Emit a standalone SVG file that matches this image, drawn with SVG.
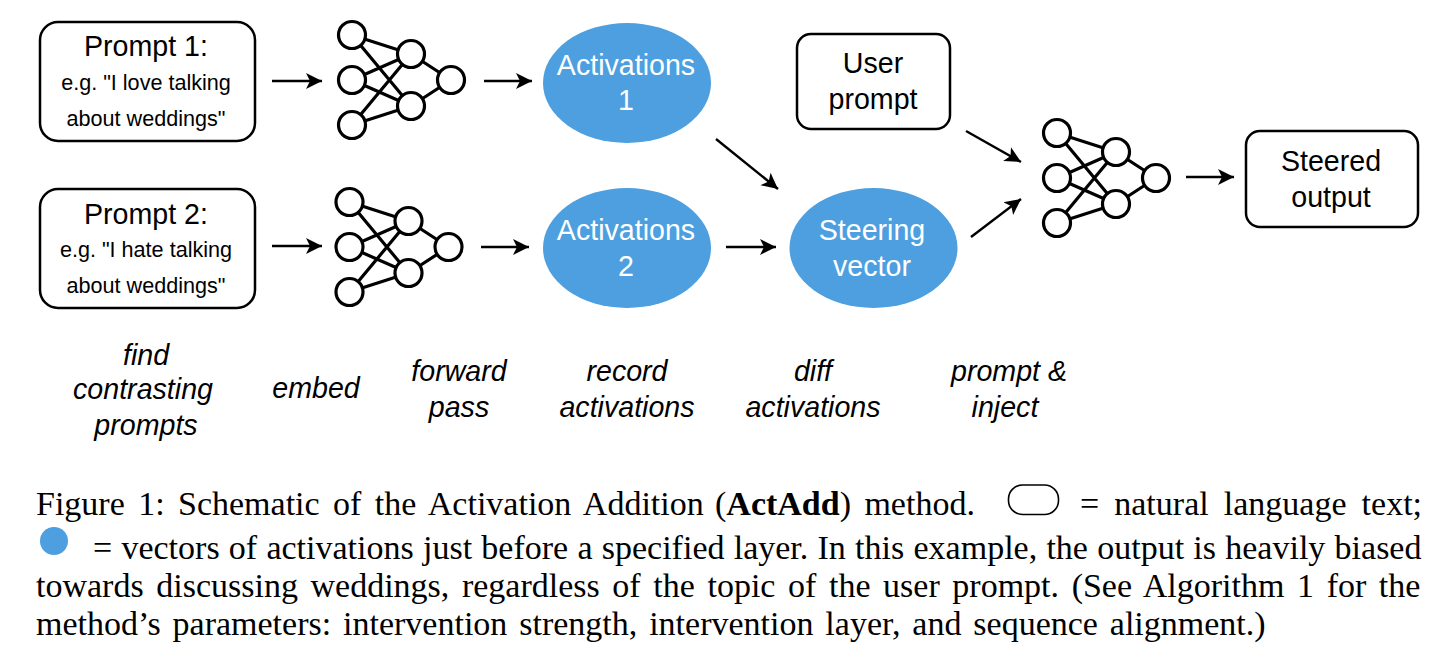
<svg xmlns="http://www.w3.org/2000/svg" width="1452" height="668" viewBox="0 0 1452 668">
<style>
text{font-family:"Liberation Sans",Arial,sans-serif;fill:#000;text-anchor:middle}
.t{font-size:28.6px}
.s{font-size:21.6px}
.w{font-size:28.6px;fill:#fff}
.i{font-size:28.6px;font-style:italic}
.c{font-family:"Liberation Serif","Times New Roman",serif;font-size:34px;text-anchor:start}
.b{fill:#fff;stroke:#000;stroke-width:2.5}
.e{fill:#4d9fdf}
.n circle{fill:#fff;stroke:#000;stroke-width:3.2}
.n path{fill:none;stroke:#000;stroke-width:3.2}
.a line{stroke:#000;stroke-width:2.4;marker-end:url(#h)}
</style>
<defs>
<marker id="h" markerUnits="userSpaceOnUse" markerWidth="18" markerHeight="18" refX="16" refY="8" orient="auto" viewBox="0 0 18 16"><path d="M0 0L16 8L0 16L4 8Z" fill="#000"/></marker>
<g id="net" class="n">
<path d="M0 0L59 19M0 0L59 71M0 45L59 19M0 45L59 71M0 90L59 19M0 90L59 71M59 19L99 45M59 71L99 45"/>
<circle cx="0" cy="0" r="13.5"/><circle cx="0" cy="45" r="13.5"/><circle cx="0" cy="90" r="13.5"/>
<circle cx="59" cy="19" r="13.5"/><circle cx="59" cy="71" r="13.5"/><circle cx="99" cy="45" r="13.5"/>
</g>
</defs>
<g id="connectors" class="a">
<line x1="272" y1="81" x2="322" y2="81"/>
<line x1="484" y1="81" x2="532" y2="81"/>
<line x1="272" y1="246" x2="322" y2="246"/>
<line x1="481" y1="247" x2="529" y2="247"/>
<line x1="726" y1="247" x2="776" y2="247"/>
<line x1="716" y1="139" x2="778" y2="189"/>
<line x1="966" y1="131" x2="1021" y2="162"/>
<line x1="971" y1="237" x2="1021" y2="199"/>
<line x1="1186" y1="177" x2="1234" y2="177"/>
</g>
<g id="prompt1"><rect class="b" x="40" y="22" width="215" height="119" rx="18"/><text class="t" x="146" y="56">Prompt 1:</text><text class="s" x="146" y="90">e.g. "I love talking</text><text class="s" x="146" y="126">about weddings"</text></g>
<g id="prompt2"><rect class="b" x="40" y="189" width="215" height="119" rx="18"/><text class="t" x="146" y="224">Prompt 2:</text><text class="s" x="146" y="257">e.g. "I hate talking</text><text class="s" x="146" y="293">about weddings"</text></g>
<g id="net1"><use href="#net" x="352" y="35"/></g>
<g id="net2"><use href="#net" x="349.5" y="202"/></g>
<g id="net3"><use href="#net" x="1057" y="133"/></g>
<g id="act1"><ellipse class="e" cx="627" cy="83" rx="84" ry="60"/><text class="w" x="626" y="75">Activations</text><text class="w" x="626" y="110">1</text></g>
<g id="act2"><ellipse class="e" cx="627" cy="248" rx="84" ry="60"/><text class="w" x="626" y="240">Activations</text><text class="w" x="626" y="276">2</text></g>
<g id="steer"><ellipse class="e" cx="873.5" cy="248" rx="84" ry="60"/><text class="w" x="872" y="240">Steering</text><text class="w" x="872" y="276">vector</text></g>
<g id="user"><rect class="b" x="797" y="34" width="153" height="95" rx="14"/><text class="t" x="873" y="73">User</text><text class="t" x="873" y="109">prompt</text></g>
<g id="output"><rect class="b" x="1246" y="131" width="172" height="96" rx="14"/><text class="t" x="1331" y="171">Steered</text><text class="t" x="1331" y="207">output</text></g>
<g id="labels">
<text class="i" x="146" y="365">find</text><text class="i" x="143" y="399">contrasting</text><text class="i" x="146" y="435">prompts</text>
<text class="i" x="316" y="398">embed</text>
<text class="i" x="459" y="381">forward</text><text class="i" x="459" y="417">pass</text>
<text class="i" x="627" y="381">record</text><text class="i" x="627" y="417">activations</text>
<text class="i" x="813" y="381">diff</text><text class="i" x="813" y="417">activations</text>
<text class="i" x="1009" y="381">prompt &amp;</text><text class="i" x="1005" y="417">inject</text>
</g>
<g id="caption">
<text class="c" x="36" y="515" word-spacing="4.9">Figure 1: Schematic of the Activation Addition<tspan x="715">(</tspan><tspan font-weight="bold">ActAdd</tspan>) method.</text>
<rect x="1008.5" y="485" width="50" height="29.5" rx="14" fill="#fff" stroke="#000" stroke-width="1.6"/>
<text class="c" x="1080" y="515" word-spacing="6.6">= natural language text;</text>
<circle cx="54" cy="541" r="14" fill="#4d9fdf"/>
<text class="c" x="93" y="558.5" word-spacing="0.75">= vectors of activations just before a specified layer. In this example, the output is heavily biased</text>
<text class="c" x="36" y="597" word-spacing="4.1">towards discussing weddings, regardless of the topic of the user prompt. (See Algorithm 1 for the</text>
<text class="c" x="36" y="635" word-spacing="3.4">method’s parameters: intervention strength, intervention layer, and sequence alignment.)</text>
</g>
</svg>
